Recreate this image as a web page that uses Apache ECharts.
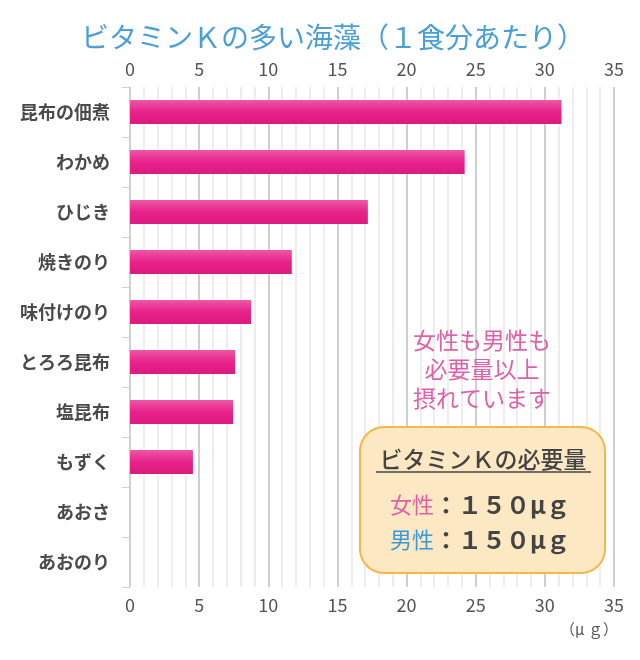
<!DOCTYPE html>
<html><head><meta charset="utf-8">
<script src="https://cdn.jsdelivr.net/npm/echarts@6/dist/echarts.min.js"></script>
<style>html,body{margin:0;padding:0;background:#fff}#c{width:640px;height:660px}</style>
</head><body><div id="c"></div>
<script>
const categories = ['昆布の佃煮','わかめ','ひじき','焼きのり','味付けのり','とろろ昆布','塩昆布','もずく','あおさ','あおのり'];
const values = [31.2, 24.2, 17.2, 11.7, 8.75, 7.6, 7.45, 4.55, 0, 0];
const xTicks = [0, 5, 10, 15, 20, 25, 30, 35];
const titleText = 'ビタミンＫの多い海藻（１食分あたり）';
const noteLines = ['女性も男性も', '必要量以上', '摂れています'];
const boxTitle = 'ビタミンＫの必要量';
const needRows = [['女性', '：１５０μｇ', '#e060a8'], ['男性', '：１５０μｇ', '#3a9ad8']];
const unitText = '（μ ｇ）';

const FONT = '"Noto Sans CJK JP", "Noto Sans", sans-serif';
const chart = echarts.init(document.getElementById('c'));
const xAxisBase = {
  type: 'value', min: xTicks[0], max: xTicks[xTicks.length-1], interval: 5,
  axisLine: {show: false},
  axisTick: {show: false},
  axisLabel: {color: '#555', fontSize: 18, fontFamily: FONT, margin: 9},
  splitLine: {show: true, lineStyle: {color: '#cfcfcf', width: 2}},
  minorTick: {show: false, splitNumber: 5},
  minorSplitLine: {show: true, lineStyle: {color: '#e9e9e9', width: 1.5}}
};
chart.setOption({
  backgroundColor: '#fff',
  title: {text: titleText, left: 76, top: 18,
    textStyle: {color: '#4a9fd6', fontSize: 28, fontWeight: 'normal', fontFamily: FONT}},
  grid: {left: 130, right: 26, top: 87, bottom: 73, containLabel: false},
  xAxis: [
    Object.assign({}, xAxisBase, {position: 'top'}),
    Object.assign({}, xAxisBase, {position: 'bottom', splitLine: {show: false}, minorSplitLine: {show: false}})
  ],
  yAxis: {
    type: 'category', data: categories, inverse: true,
    axisLine: {show: true, lineStyle: {color: '#d0d0d0', width: 1.5}},
    axisTick: {show: true, length: 8, lineStyle: {color: '#d0d0d0'}},
    axisLabel: {color: '#4a4a4a', fontSize: 18, fontWeight: 'bold', fontFamily: FONT, margin: 20}
  },
  series: [{
    type: 'bar', xAxisIndex: 0, data: values, barWidth: 24,
    itemStyle: {
      color: new echarts.graphic.LinearGradient(0, 0, 0, 1, [
        {offset: 0, color: '#ee58a6'}, {offset: 0.5, color: '#e8228a'}, {offset: 1, color: '#dc1a80'}
      ]),
      shadowColor: 'rgba(0,0,0,0.45)', shadowBlur: 5, shadowOffsetX: 2, shadowOffsetY: 3
    }
  }],
  graphic: [
    ...noteLines.map((t, i) => ({
      type: 'text', x: 482, y: 340 + i * 29, z: 10,
      style: {text: t, fill: '#e060a8', font: '23px ' + FONT, align: 'center', verticalAlign: 'middle'}
    })),
    {type: 'rect', shape: {x: 360, y: 427, width: 245, height: 146, r: 24}, z: 10,
      style: {fill: '#fde8c4', stroke: '#f5b848', lineWidth: 2}},
    {type: 'text', x: 483, y: 459, z: 11,
      style: {text: boxTitle, fill: '#444', font: '500 23px ' + FONT, align: 'center', verticalAlign: 'middle'}},
    {type: 'line', shape: {x1: 376, y1: 472, x2: 591, y2: 472}, z: 11,
      style: {stroke: '#444', lineWidth: 1.5}},
    ...needRows.map((r, i) => ({
      type: 'text', x: 480, y: 505 + i * 35, z: 11,
      style: {
        text: '{a|' + r[0] + '}{b|' + r[1] + '}',
        align: 'center', verticalAlign: 'middle',
        rich: {
          a: {fill: r[2], font: '22px ' + FONT},
          b: {fill: '#444', font: 'bold 24px ' + FONT}
        }
      }
    })),
    {type: 'text', x: 589, y: 629, style: {text: unitText, fill: '#555', font: '15px ' + FONT, align: 'center', verticalAlign: 'middle'}}
  ]
});
</script></body></html>
